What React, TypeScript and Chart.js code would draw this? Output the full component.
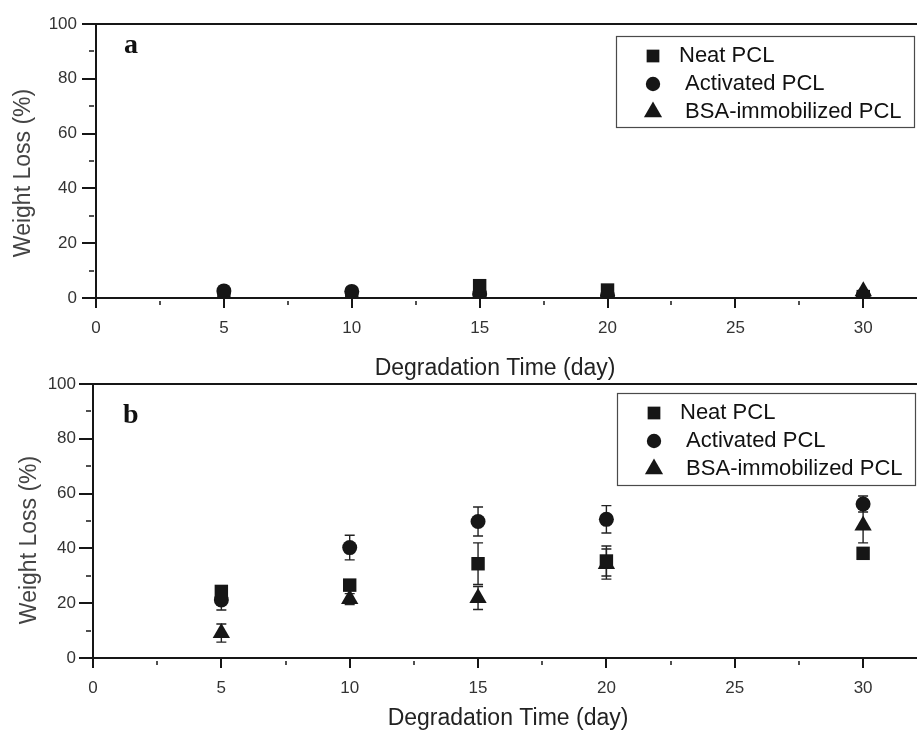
import React, { useEffect, useRef } from 'react';
import { Chart, registerables } from 'chart.js';

Chart.register(...registerables);

// ---------- data ----------
const days = [5, 10, 15, 20, 30];
const seriesLabels = ['Neat PCL', ' Activated PCL', ' BSA-immobilized PCL'];
const pointStyles = ['rect', 'circle', 'triangle'];

// panel a
const neatA = [0.5, 0.5, 4.5, 2.9, 0.5];
const activatedA = [2.6, 2.4, 1.5, 1.0, 1.0];
const bsaA = [0.3, 0.3, 1.0, 0.5, 2.5];

// panel b (mean and error)
const neatB = [24.3, 26.6, 34.4, 35.4, 38.2];
const neatErrB = [2.0, 2.0, 7.6, 5.5, 1.5];
const activatedB = [21.2, 40.3, 49.8, 50.6, 56.2];
const activatedErrB = [3.7, 4.5, 5.3, 5.0, 2.9];
const bsaB = [9.1, 21.5, 21.9, 34.3, 48.4];
const bsaErrB = [3.3, 2.0, 4.2, 5.5, 6.4];

// axes
const xMajorTicks = [0, 5, 10, 15, 20, 25, 30];
const xMinorTicks = [2.5, 7.5, 12.5, 17.5, 22.5, 27.5];
const yMajorTicks = [0, 20, 40, 60, 80, 100];
const yMinorTicks = [10, 30, 50, 70, 90];
const xMin = 0;
const xMax = 32.1;
const yMin = 0;
const yMax = 100;
const xTitle = 'Degradation Time (day)';
const yTitle = 'Weight Loss (%)';

// ---------- styling ----------
const INK = '#161616';
const SANS = '"Liberation Sans", Arial, Helvetica, sans-serif';
const SERIF = '"Liberation Serif", "Times New Roman", serif';
const plotRadii = [9.5, 7.5, 10];
const legendRadii = [9, 7.2, 10.5];

type PanelSpec = {
  top: number;
  height: number;
  axisLeft: number;
  chartTop: number;
  xAxisHeight: number;
  yTickPad: number;
  series: number[][];
  errors?: number[][];
  letter: string;
  letterPos: [number, number];
  xTitlePos: [number, number];
  yTitlePos: [number, number];
  legend: { left: number; top: number; width: number; height: number };
};

const panelA: PanelSpec = {
  top: 0,
  height: 385,
  axisLeft: 96,
  chartTop: 24,
  xAxisHeight: 87,
  yTickPad: 19,
  series: [neatA, activatedA, bsaA],
  letter: 'a',
  letterPos: [124, 53],
  xTitlePos: [495, 369],
  yTitlePos: [24, 173],
  legend: { left: 616, top: 36, width: 298, height: 91 },
};

const panelB: PanelSpec = {
  top: 355,
  height: 377,
  axisLeft: 93,
  chartTop: 29,
  xAxisHeight: 74,
  yTickPad: 17,
  series: [neatB, activatedB, bsaB],
  errors: [neatErrB, activatedErrB, bsaErrB],
  letter: 'b',
  letterPos: [123, 68],
  xTitlePos: [508, 364],
  yTitlePos: [30, 185],
  legend: { left: 617, top: 38, width: 298, height: 92 },
};

function drawMarker(ctx: CanvasRenderingContext2D, style: string, x: number, y: number, r: number) {
  ctx.beginPath();
  if (style === 'rect') {
    const s = r / Math.SQRT2;
    ctx.rect(x - s, y - s, 2 * s, 2 * s);
  } else if (style === 'circle') {
    ctx.arc(x, y, r, 0, Math.PI * 2);
  } else {
    const rad = (Math.PI * 2) / 3;
    ctx.moveTo(x, y - r);
    ctx.lineTo(x + Math.sin(rad) * r, y - Math.cos(rad) * r);
    ctx.lineTo(x - Math.sin(rad) * r, y - Math.cos(rad) * r);
    ctx.closePath();
  }
  ctx.fill();
}

function makeConfig(spec: PanelSpec): any {
  const decor = {
    id: 'decor',
    beforeDatasetsDraw(chart: any) {
      const ctx: CanvasRenderingContext2D = chart.ctx;
      const { left, right, top, bottom } = chart.chartArea;
      const xs = chart.scales.x;
      const ys = chart.scales.y;
      ctx.save();
      ctx.strokeStyle = INK;
      ctx.lineCap = 'butt';
      // top frame line
      ctx.lineWidth = 2;
      ctx.beginPath();
      ctx.moveTo(left, top);
      ctx.lineTo(right, top);
      ctx.stroke();
      // x ticks
      ctx.lineWidth = 2;
      for (const v of xMajorTicks) {
        const px = Math.round(xs.getPixelForValue(v));
        ctx.beginPath();
        ctx.moveTo(px, bottom - 1);
        ctx.lineTo(px, bottom + 10);
        ctx.stroke();
      }
      ctx.lineWidth = 1.5;
      for (const v of xMinorTicks) {
        const px = Math.round(xs.getPixelForValue(v));
        ctx.beginPath();
        ctx.moveTo(px, bottom + 3);
        ctx.lineTo(px, bottom + 7);
        ctx.stroke();
      }
      // y ticks
      ctx.lineWidth = 2;
      for (const v of yMajorTicks) {
        const py = Math.round(ys.getPixelForValue(v));
        ctx.beginPath();
        ctx.moveTo(left - 14, py);
        ctx.lineTo(left, py);
        ctx.stroke();
      }
      ctx.lineWidth = 1.5;
      for (const v of yMinorTicks) {
        const py = Math.round(ys.getPixelForValue(v));
        ctx.beginPath();
        ctx.moveTo(left - 7, py);
        ctx.lineTo(left - 2, py);
        ctx.stroke();
      }
      // error bars
      if (spec.errors) {
        ctx.strokeStyle = '#222';
        ctx.lineWidth = 1.4;
        chart.data.datasets.forEach((ds: any, i: number) => {
          const errs = spec.errors![i];
          ds.data.forEach((pt: any, j: number) => {
            const e = errs[j];
            const px = xs.getPixelForValue(pt.x);
            const yHi = ys.getPixelForValue(pt.y + e);
            const yLo = ys.getPixelForValue(pt.y - e);
            ctx.beginPath();
            ctx.moveTo(px, yHi);
            ctx.lineTo(px, yLo);
            ctx.moveTo(px - 5, yHi);
            ctx.lineTo(px + 5, yHi);
            ctx.moveTo(px - 5, yLo);
            ctx.lineTo(px + 5, yLo);
            ctx.stroke();
          });
        });
      }
      ctx.restore();
    },
    afterDraw(chart: any) {
      const ctx: CanvasRenderingContext2D = chart.ctx;
      ctx.save();
      // legend
      const lb = spec.legend;
      ctx.strokeStyle = '#4a4a4a';
      ctx.lineWidth = 1.2;
      ctx.strokeRect(lb.left + 0.5, lb.top + 0.5, lb.width, lb.height);
      const rows = [20, 48, 76];
      ctx.font = `22px ${SANS}`;
      ctx.textBaseline = 'middle';
      ctx.textAlign = 'left';
      chart.data.datasets.forEach((ds: any, i: number) => {
        const y = lb.top + rows[i];
        ctx.fillStyle = INK;
        drawMarker(ctx, ds.pointStyle, lb.left + 37, y, legendRadii[i]);
        ctx.fillStyle = '#111';
        ctx.fillText(ds.label, lb.left + 63, y);
      });
      // axis titles
      ctx.fillStyle = '#222';
      ctx.font = `23px ${SANS}`;
      ctx.textAlign = 'center';
      ctx.textBaseline = 'middle';
      ctx.fillText(xTitle, spec.xTitlePos[0], spec.xTitlePos[1]);
      ctx.save();
      ctx.fillStyle = '#444';
      ctx.translate(spec.yTitlePos[0], spec.yTitlePos[1]);
      ctx.rotate(-Math.PI / 2);
      ctx.fillText(yTitle, 0, 0);
      ctx.restore();
      // panel letter
      ctx.fillStyle = '#111';
      ctx.font = `bold 28px ${SERIF}`;
      ctx.textAlign = 'left';
      ctx.textBaseline = 'alphabetic';
      ctx.fillText(spec.letter, spec.letterPos[0], spec.letterPos[1]);
      ctx.restore();
    },
  };

  const tickFont = { family: SANS, size: 17 };

  return {
    type: 'scatter',
    data: {
      datasets: spec.series.map((vals, i) => ({
        label: seriesLabels[i],
        data: days.map((d, j) => ({ x: d, y: vals[j] })),
        pointStyle: pointStyles[i],
        pointRadius: plotRadii[i],
        pointHoverRadius: plotRadii[i],
        backgroundColor: INK,
        borderColor: INK,
        borderWidth: 0,
        showLine: false,
      })),
    },
    options: {
      responsive: false,
      animation: false,
      events: [],
      layout: { autoPadding: false, padding: { top: spec.chartTop, right: 0, bottom: 0, left: 0 } },
      plugins: {
        legend: { display: false },
        tooltip: { enabled: false },
        title: { display: false },
      },
      scales: {
        x: {
          type: 'linear',
          min: xMin,
          max: xMax,
          afterBuildTicks: (s: any) => {
            s.ticks = xMajorTicks.map((v) => ({ value: v }));
          },
          afterFit: (s: any) => {
            s.height = spec.xAxisHeight;
            s.paddingLeft = 0;
            s.paddingRight = 0;
          },
          ticks: { padding: 20, font: tickFont, color: '#333', maxRotation: 0, autoSkip: false },
          grid: { display: false, drawTicks: false },
          border: { display: true, color: INK, width: 2 },
        },
        y: {
          type: 'linear',
          min: yMin,
          max: yMax,
          afterBuildTicks: (s: any) => {
            s.ticks = yMajorTicks.map((v) => ({ value: v }));
          },
          afterFit: (s: any) => {
            s.width = spec.axisLeft;
            s.paddingTop = 0;
            s.paddingBottom = 0;
          },
          ticks: { padding: spec.yTickPad, font: tickFont, color: '#333' },
          grid: { display: false, drawTicks: false },
          border: { display: true, color: INK, width: 2 },
        },
      },
    },
    plugins: [decor],
  };
}

function Panel({ spec }: { spec: PanelSpec }) {
  const ref = useRef<HTMLCanvasElement>(null);
  useEffect(() => {
    if (!ref.current) return;
    const chart = new Chart(ref.current, makeConfig(spec));
    return () => chart.destroy();
  }, [spec]);
  return (
    <canvas
      ref={ref}
      width={917}
      height={spec.height}
      style={{ position: 'absolute', left: 0, top: spec.top, width: 917, height: spec.height, display: 'block' }}
    />
  );
}

export default function App() {
  return (
    <div style={{ position: 'absolute', left: 0, top: 0, width: 917, height: 732, background: '#fff', overflow: 'hidden' }}>
      <Panel spec={panelA} />
      <Panel spec={panelB} />
    </div>
  );
}
